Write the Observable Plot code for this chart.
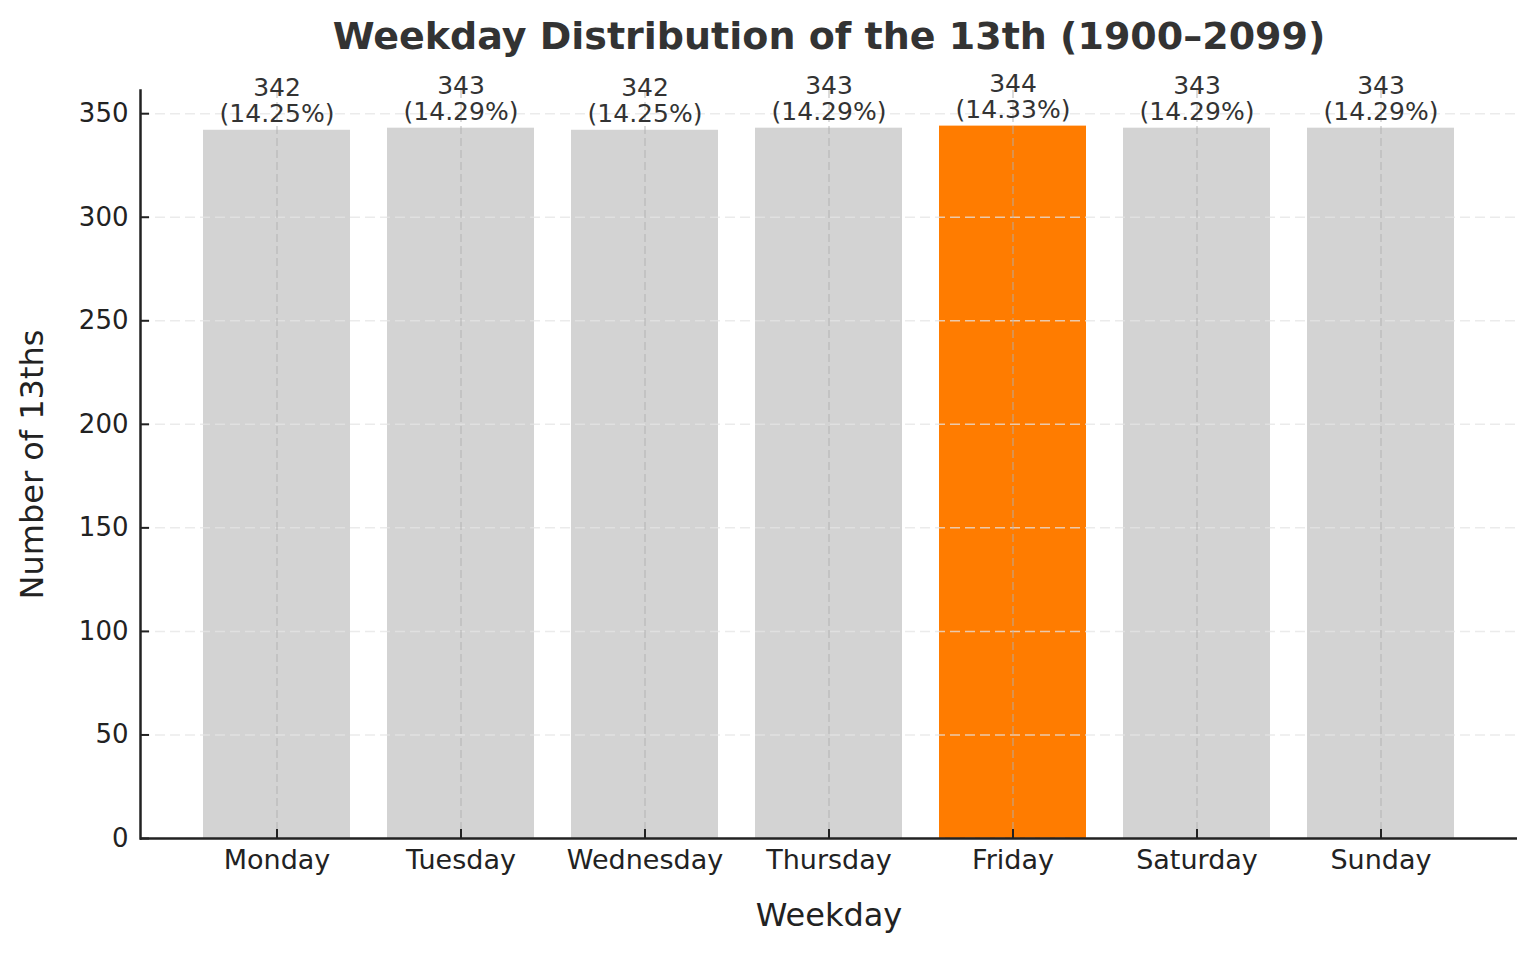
<!DOCTYPE html>
<html>
<head>
<meta charset="utf-8">
<script src="https://cdn.jsdelivr.net/npm/d3@7"></script>
<script src="https://cdn.jsdelivr.net/npm/@observablehq/plot@0.6"></script>
<style>
  html, body { margin: 0; padding: 0; background: #fff; }
  #chart svg { display: block; }
</style>
</head>
<body>
<div id="chart"></div>
<script>
const days = ["Monday", "Tuesday", "Wednesday", "Thursday", "Friday", "Saturday", "Sunday"];
const counts = [342, 343, 342, 343, 344, 343, 343];
const percents = ["14.25", "14.29", "14.25", "14.29", "14.33", "14.29", "14.29"];
const yTicks = [0, 50, 100, 150, 200, 250, 300, 350];
const highlightDay = "Friday";
const titleText = "Weekday Distribution of the 13th (1900–2099)";
const xLabel = "Weekday";
const yLabel = "Number of 13ths";

const rows = days.map((d, i) => ({day: d, count: counts[i], pct: percents[i]}));

const gray = "#d3d3d3";
const orange = "#ff7c00";

const chart = Plot.plot({
  width: 1536,
  height: 953,
  marginLeft: 140,
  marginRight: 19,
  marginTop: 90,
  marginBottom: 115,
  style: {fontFamily: "DejaVu Sans", background: "#fff", color: "#222"},
  x: {type: "band", domain: days, paddingInner: 0.2, paddingOuter: 0.34, axis: null},
  y: {domain: [0, 361.2], axis: null},
  marks: [
    Plot.barY(rows, {x: "day", y: "count", fill: d => d.day === highlightDay ? orange : gray}),
    Plot.gridY(yTicks, {stroke: "#e4e4e4", strokeOpacity: 0.75, strokeWidth: 1.5, strokeDasharray: "10,5"}),
    Plot.gridX(days, {stroke: "#b0b0b0", strokeOpacity: 0.6, strokeWidth: 1.5, strokeDasharray: "8,4"}),
    Plot.text(rows, {
      x: "day", y: "count",
      text: d => `${d.count}\n(${d.pct}%)`,
      lineAnchor: "bottom", dy: -8, fontSize: 25, fill: "#333", lineHeight: 1.06
    }),
    Plot.axisY(yTicks, {anchor: "left", tickSize: -9, tickPadding: 21, fontSize: 26, strokeWidth: 2, label: null, stroke: "#222"}),
    Plot.axisX(days, {anchor: "bottom", tickSize: -9, tickPadding: 20, fontSize: 27, strokeWidth: 2, label: null, stroke: "#222"}),
    Plot.frame({anchor: "left", stroke: "#222", strokeWidth: 2.5}),
    Plot.ruleY([0], {stroke: "#222", strokeWidth: 2.5}),
    Plot.text([titleText], {frameAnchor: "top", dy: -54, fontSize: 38, fontWeight: "bold", fill: "#333", lineAnchor: "middle"}),
    Plot.text([xLabel], {frameAnchor: "bottom", dy: 77, fontSize: 32, fill: "#222", lineAnchor: "middle"}),
    Plot.text([yLabel], {frameAnchor: "left", dx: -108, rotate: -90, fontSize: 32, fill: "#222", lineAnchor: "middle", textAnchor: "middle"})
  ]
});
document.getElementById("chart").append(chart);
</script>
</body>
</html>
